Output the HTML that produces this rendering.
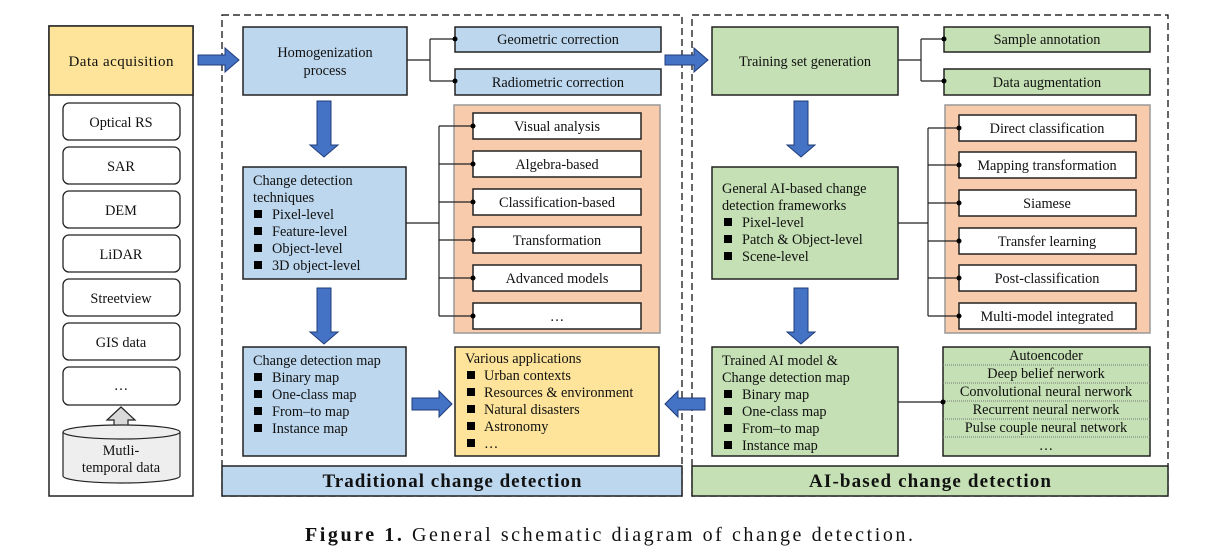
<!DOCTYPE html>
<html><head><meta charset="utf-8"><style>
html,body{margin:0;padding:0;background:#fff;}
svg{display:block;}
text{font-family:"Liberation Serif",serif;font-size:14.3px;fill:#111;}
.c{text-anchor:middle;}
</style></head><body>
<svg width="1208" height="551" viewBox="0 0 1208 551" xmlns="http://www.w3.org/2000/svg">
<defs>
<g id="bul"><rect x="0" y="-9" width="8" height="8" fill="#000"/></g>
</defs>
<rect x="222" y="15" width="460" height="481" fill="none" stroke="#000" stroke-dasharray="7,4" stroke-width="1.2"/>
<rect x="692" y="15" width="476" height="481" fill="none" stroke="#000" stroke-dasharray="7,4" stroke-width="1.2"/>

<rect x="49" y="26" width="144" height="470" fill="#fff" stroke="#222" stroke-width="1.5"/>
<rect x="49" y="26" width="144" height="69" fill="#fde49a" stroke="#222" stroke-width="1.5"/>
<text class="c" x="121" y="66" style="font-size:15px" textLength="105">Data acquisition</text>
<g fill="#fff" stroke="#222" stroke-width="1.3">
<rect x="63" y="103" width="117" height="37" rx="6"/>
<rect x="63" y="147" width="117" height="37" rx="6"/>
<rect x="63" y="191" width="117" height="37" rx="6"/>
<rect x="63" y="235" width="117" height="37" rx="6"/>
<rect x="63" y="279" width="117" height="37" rx="6"/>
<rect x="63" y="323" width="117" height="37" rx="6"/>
<rect x="63" y="367" width="117" height="38" rx="6"/>
</g>
<text class="c" x="121" y="127">Optical RS</text>
<text class="c" x="121" y="171">SAR</text>
<text class="c" x="121" y="215">DEM</text>
<text class="c" x="121" y="259">LiDAR</text>
<text class="c" x="121" y="303">Streetview</text>
<text class="c" x="121" y="347">GIS data</text>
<text class="c" x="121" y="390">…</text>
<polygon points="121,407 135,420 128,420 128,433 114,433 114,420 107,420" fill="#d9d9d9" stroke="#222" stroke-width="1.2"/>
<path d="M63,432 L63,476 A58.5,7 0 0 0 180,476 L180,432" fill="#eee" stroke="#222" stroke-width="1.2"/>
<ellipse cx="121.5" cy="432" rx="58.5" ry="7" fill="#eee" stroke="#222" stroke-width="1.2"/>
<text class="c" x="121" y="455">Mutli-</text>
<text class="c" x="121" y="472">temporal data</text>

<g fill="#4472c4" stroke="#1f3c78" stroke-width="1">
<polygon points="198,55 225,55 225,48 239,60 225,72 225,65 198,65"/>
<polygon points="665,55 694,55 694,48 708,60 694,72 694,65 665,65"/>
<polygon points="317,101 331,101 331,145 338,145 324,157 310,145 317,145"/>
<polygon points="317,288 331,288 331,332 338,332 324,344 310,332 317,332"/>
<polygon points="794,101 808,101 808,145 815,145 801,157 787,145 794,145"/>
<polygon points="794,288 808,288 808,332 815,332 801,344 787,332 794,332"/>
<polygon points="412,398 439,398 439,391 452,404 439,417 439,410 412,410"/>
<polygon points="705,398 678,398 678,391 665,404 678,417 678,410 705,410"/>
</g>

<rect x="243" y="27" width="164" height="68" fill="#bdd7ee" stroke="#222" stroke-width="1.5"/>
<text class="c" x="325" y="57">Homogenization</text>
<text class="c" x="325" y="75">process</text>
<rect x="455" y="27" width="206" height="25" fill="#bdd7ee" stroke="#222" stroke-width="1.5"/>
<rect x="455" y="69" width="206" height="26" fill="#bdd7ee" stroke="#222" stroke-width="1.5"/>
<text class="c" x="558" y="44">Geometric correction</text>
<text class="c" x="558" y="87">Radiometric correction</text>
<path d="M407,60 H430 M430,39 V81 M430,39 H455 M430,81 H455" stroke="#222" fill="none" stroke-width="1.2"/>
<circle cx="455" cy="39" r="2.5"/><circle cx="455" cy="81" r="2.5"/>

<rect x="243" y="167" width="163" height="112" fill="#bdd7ee" stroke="#222" stroke-width="1.5"/>
<text x="253" y="185">Change detection</text>
<text x="253" y="202">techniques</text>
<use href="#bul" x="254" y="219"/><text x="272" y="219">Pixel-level</text>
<use href="#bul" x="254" y="236"/><text x="272" y="236">Feature-level</text>
<use href="#bul" x="254" y="253"/><text x="272" y="253">Object-level</text>
<use href="#bul" x="254" y="270"/><text x="272" y="270">3D object-level</text>

<rect x="454" y="105" width="206" height="228" fill="#f8cbad" stroke="#999" stroke-width="1.5"/>
<g fill="#fff" stroke="#222" stroke-width="1.5">
<rect x="473" y="113" width="168" height="26"/>
<rect x="473" y="151" width="168" height="26"/>
<rect x="473" y="189" width="168" height="26"/>
<rect x="473" y="227" width="168" height="26"/>
<rect x="473" y="265" width="168" height="26"/>
<rect x="473" y="303" width="168" height="26"/>
</g>
<text class="c" x="557" y="131">Visual analysis</text>
<text class="c" x="557" y="169">Algebra-based</text>
<text class="c" x="557" y="207">Classification-based</text>
<text class="c" x="557" y="245">Transformation</text>
<text class="c" x="557" y="283">Advanced models</text>
<text class="c" x="557" y="321">…</text>
<path d="M406,223 H439 M439,126 V316 M439,126 H473 M439,164 H473 M439,202 H473 M439,240 H473 M439,278 H473 M439,316 H473" stroke="#222" fill="none" stroke-width="1.2"/>
<g><circle cx="473" cy="126" r="2.5"/><circle cx="473" cy="164" r="2.5"/><circle cx="473" cy="202" r="2.5"/><circle cx="473" cy="240" r="2.5"/><circle cx="473" cy="278" r="2.5"/><circle cx="473" cy="316" r="2.5"/></g>

<rect x="243" y="347" width="163" height="109" fill="#bdd7ee" stroke="#222" stroke-width="1.5"/>
<text x="253" y="365">Change detection map</text>
<use href="#bul" x="254" y="382"/><text x="272" y="382">Binary map</text>
<use href="#bul" x="254" y="399"/><text x="272" y="399">One-class map</text>
<use href="#bul" x="254" y="416"/><text x="272" y="416">From–to map</text>
<use href="#bul" x="254" y="433"/><text x="272" y="433">Instance map</text>

<rect x="455" y="347" width="204" height="109" fill="#fde49a" stroke="#222" stroke-width="1.5"/>
<text x="465" y="363">Various applications</text>
<use href="#bul" x="467" y="380"/><text x="484" y="380">Urban contexts</text>
<use href="#bul" x="467" y="397"/><text x="484" y="397">Resources &amp; environment</text>
<use href="#bul" x="467" y="414"/><text x="484" y="414">Natural disasters</text>
<use href="#bul" x="467" y="431"/><text x="484" y="431">Astronomy</text>
<use href="#bul" x="467" y="448"/><text x="484" y="448">…</text>

<rect x="222" y="466" width="460" height="30" fill="#bdd7ee" stroke="#222" stroke-width="1.5"/>
<text class="c" x="452" y="487" style="font-size:19px;font-weight:bold" textLength="259">Traditional change detection</text>

<rect x="712" y="27" width="186" height="68" fill="#c5e0b4" stroke="#222" stroke-width="1.5"/>
<text class="c" x="805" y="66">Training set generation</text>
<rect x="944" y="27" width="206" height="25" fill="#c5e0b4" stroke="#222" stroke-width="1.5"/>
<rect x="944" y="69" width="206" height="26" fill="#c5e0b4" stroke="#222" stroke-width="1.5"/>
<text class="c" x="1047" y="44">Sample annotation</text>
<text class="c" x="1047" y="87">Data augmentation</text>
<path d="M898,60 H921 M921,39 V81 M921,39 H944 M921,81 H944" stroke="#222" fill="none" stroke-width="1.2"/>
<circle cx="944" cy="39" r="2.5"/><circle cx="944" cy="81" r="2.5"/>

<rect x="712" y="167" width="186" height="112" fill="#c5e0b4" stroke="#222" stroke-width="1.5"/>
<text x="722" y="193">General AI-based change</text>
<text x="722" y="210">detection frameworks</text>
<use href="#bul" x="724" y="227"/><text x="742" y="227">Pixel-level</text>
<use href="#bul" x="724" y="244"/><text x="742" y="244">Patch &amp; Object-level</text>
<use href="#bul" x="724" y="261"/><text x="742" y="261">Scene-level</text>

<rect x="945" y="105" width="205" height="228" fill="#f8cbad" stroke="#999" stroke-width="1.5"/>
<g fill="#fff" stroke="#222" stroke-width="1.5">
<rect x="959" y="115" width="177" height="26"/>
<rect x="959" y="152" width="177" height="26"/>
<rect x="959" y="190" width="177" height="26"/>
<rect x="959" y="228" width="177" height="26"/>
<rect x="959" y="265" width="177" height="26"/>
<rect x="959" y="303" width="177" height="26"/>
</g>
<text class="c" x="1047" y="133">Direct classification</text>
<text class="c" x="1047" y="170">Mapping transformation</text>
<text class="c" x="1047" y="208">Siamese</text>
<text class="c" x="1047" y="246">Transfer learning</text>
<text class="c" x="1047" y="283">Post-classification</text>
<text class="c" x="1047" y="321">Multi-model integrated</text>
<path d="M898,223 H928 M928,128 V316 M928,128 H959 M928,165 H959 M928,203 H959 M928,241 H959 M928,278 H959 M928,316 H959" stroke="#222" fill="none" stroke-width="1.2"/>
<g><circle cx="959" cy="128" r="2.5"/><circle cx="959" cy="165" r="2.5"/><circle cx="959" cy="203" r="2.5"/><circle cx="959" cy="241" r="2.5"/><circle cx="959" cy="278" r="2.5"/><circle cx="959" cy="316" r="2.5"/></g>

<rect x="712" y="347" width="186" height="109" fill="#c5e0b4" stroke="#222" stroke-width="1.5"/>
<text x="722" y="365">Trained AI model &amp;</text>
<text x="722" y="382">Change detection map</text>
<use href="#bul" x="724" y="399"/><text x="742" y="399">Binary map</text>
<use href="#bul" x="724" y="416"/><text x="742" y="416">One-class map</text>
<use href="#bul" x="724" y="433"/><text x="742" y="433">From–to map</text>
<use href="#bul" x="724" y="450"/><text x="742" y="450">Instance map</text>

<rect x="943" y="347" width="207" height="109" fill="#c5e0b4" stroke="#222" stroke-width="1.5"/>
<g stroke="#777" stroke-dasharray="1,1" stroke-width="1">
<line x1="943" y1="365" x2="1150" y2="365"/><line x1="943" y1="383" x2="1150" y2="383"/>
<line x1="943" y1="401" x2="1150" y2="401"/><line x1="943" y1="419" x2="1150" y2="419"/>
<line x1="943" y1="437" x2="1150" y2="437"/>
</g>
<text class="c" x="1046" y="360">Autoencoder</text>
<text class="c" x="1046" y="378">Deep belief nerwork</text>
<text class="c" x="1046" y="396">Convolutional  neural nerwork</text>
<text class="c" x="1046" y="414">Recurrent neural nerwork</text>
<text class="c" x="1046" y="432">Pulse couple neural network</text>
<text class="c" x="1046" y="450">…</text>
<path d="M898,402 H943" stroke="#222" stroke-width="1.2"/>
<circle cx="943" cy="402" r="2.5"/>

<rect x="692" y="466" width="476" height="30" fill="#c5e0b4" stroke="#222" stroke-width="1.5"/>
<text class="c" x="930" y="487" style="font-size:19px;font-weight:bold" textLength="242">AI-based change detection</text>

<text class="c" x="609" y="541" style="font-size:20px" textLength="608"><tspan font-weight="bold">Figure 1.</tspan> General schematic diagram of change detection.</text>
</svg>
</body></html>
